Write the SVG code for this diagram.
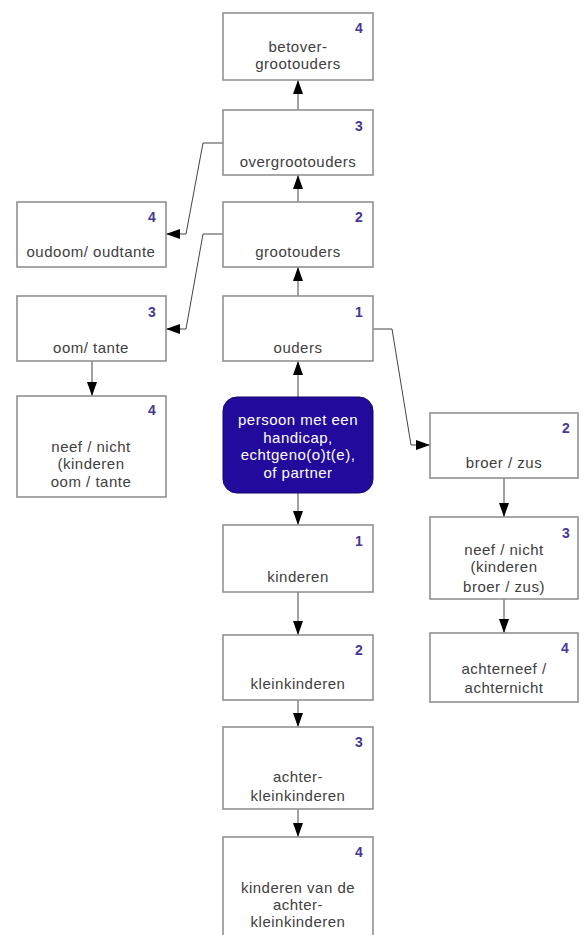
<svg xmlns="http://www.w3.org/2000/svg" width="584" height="935" viewBox="0 0 584 935">
<style>
.box{fill:#fff;stroke:#919191;stroke-width:1.6}
.lbl{font-family:"Liberation Sans",Arial,sans-serif;font-size:15px;letter-spacing:0.5px;fill:#404040;text-anchor:middle}
.num{font-family:"Liberation Sans",Arial,sans-serif;font-size:14px;font-weight:bold;fill:#4a3694;text-anchor:middle}
.wl{font-family:"Liberation Sans",Arial,sans-serif;font-size:15px;letter-spacing:0.5px;fill:#fff;text-anchor:middle}
.con{fill:none;stroke:#444;stroke-width:1;marker-end:url(#ah)}
</style>
<defs>
<marker id="ah" markerUnits="userSpaceOnUse" markerWidth="14" markerHeight="10" refX="14" refY="5" orient="auto">
<path d="M0,0 L14,5 L0,10 z" fill="#000"/>
</marker>
</defs>
<rect width="584" height="935" fill="#fff"/>
<g id="connectors">
<path class="con" d="M298,110 V80"/>
<path class="con" d="M298,202 V175"/>
<path class="con" d="M298,296 V267"/>
<path class="con" d="M298,397 V361"/>
<path class="con" d="M298,493 V525"/>
<path class="con" d="M298,592 V635"/>
<path class="con" d="M298,700 V727"/>
<path class="con" d="M298,809 V837"/>
<path class="con" d="M92,361 V396"/>
<path class="con" d="M504,478 V517"/>
<path class="con" d="M504,599 V633"/>
<path class="con" d="M223,143 H203 L186,234 H166"/>
<path class="con" d="M223,234 H203 L186,329 H166"/>
<path class="con" d="M373,329 H392 L411,445 H430"/>
</g>
<g id="betovergrootouders">
<rect class="box" x="223" y="13" width="150" height="67"/>
<text class="num" x="359" y="33">4</text>
<text class="lbl" x="298" y="52">betover-</text>
<text class="lbl" x="298" y="69">grootouders</text>
</g>
<g id="overgrootouders">
<rect class="box" x="223" y="110" width="150" height="65"/>
<text class="num" x="359" y="131">3</text>
<text class="lbl" x="298" y="167">overgrootouders</text>
</g>
<g id="grootouders">
<rect class="box" x="223" y="202" width="150" height="65"/>
<text class="num" x="359" y="222">2</text>
<text class="lbl" x="298" y="257">grootouders</text>
</g>
<g id="oudoom">
<rect class="box" x="17" y="202" width="149" height="65"/>
<text class="num" x="152" y="222">4</text>
<text class="lbl" x="91" y="257">oudoom/ oudtante</text>
</g>
<g id="oom">
<rect class="box" x="17" y="296" width="149" height="65"/>
<text class="num" x="152" y="317">3</text>
<text class="lbl" x="91" y="353">oom/ tante</text>
</g>
<g id="ouders">
<rect class="box" x="223" y="296" width="150" height="65"/>
<text class="num" x="359" y="317">1</text>
<text class="lbl" x="298" y="353">ouders</text>
</g>
<g id="neef-oom">
<rect class="box" x="17" y="396" width="149" height="101"/>
<text class="num" x="152" y="415">4</text>
<text class="lbl" x="91" y="452">neef / nicht</text>
<text class="lbl" x="91" y="469">(kinderen</text>
<text class="lbl" x="91" y="487">oom / tante</text>
</g>
<g id="persoon">
<rect x="223" y="397" width="150" height="96" rx="14" fill="#220a9c" stroke="#12066a" stroke-width="1"/>
<text class="wl" x="298" y="425">persoon met een</text>
<text class="wl" x="298" y="443">handicap,</text>
<text class="wl" x="298" y="460">echtgeno(o)t(e),</text>
<text class="wl" x="298" y="478">of partner</text>
</g>
<g id="broer">
<rect class="box" x="430" y="413" width="148" height="65"/>
<text class="num" x="566" y="433">2</text>
<text class="lbl" x="504" y="468">broer / zus</text>
</g>
<g id="kinderen">
<rect class="box" x="223" y="525" width="150" height="67"/>
<text class="num" x="359" y="546">1</text>
<text class="lbl" x="298" y="582">kinderen</text>
</g>
<g id="neef-broer">
<rect class="box" x="430" y="517" width="148" height="82"/>
<text class="num" x="566" y="538">3</text>
<text class="lbl" x="504" y="555">neef / nicht</text>
<text class="lbl" x="504" y="572">(kinderen</text>
<text class="lbl" x="504" y="592">broer / zus)</text>
</g>
<g id="kleinkinderen">
<rect class="box" x="223" y="635" width="150" height="65"/>
<text class="num" x="359" y="655">2</text>
<text class="lbl" x="298" y="689">kleinkinderen</text>
</g>
<g id="achterneef">
<rect class="box" x="430" y="633" width="148" height="69"/>
<text class="num" x="565" y="653">4</text>
<text class="lbl" x="504" y="674">achterneef /</text>
<text class="lbl" x="504" y="693">achternicht</text>
</g>
<g id="achterkleinkinderen">
<rect class="box" x="223" y="727" width="150" height="82"/>
<text class="num" x="359" y="747">3</text>
<text class="lbl" x="298" y="782">achter-</text>
<text class="lbl" x="298" y="801">kleinkinderen</text>
</g>
<g id="kinderen-achterklein">
<rect class="box" x="223" y="837" width="150" height="110"/>
<text class="num" x="359" y="857">4</text>
<text class="lbl" x="298" y="893">kinderen van de</text>
<text class="lbl" x="298" y="910">achter-</text>
<text class="lbl" x="298" y="927">kleinkinderen</text>
</g>
</svg>
